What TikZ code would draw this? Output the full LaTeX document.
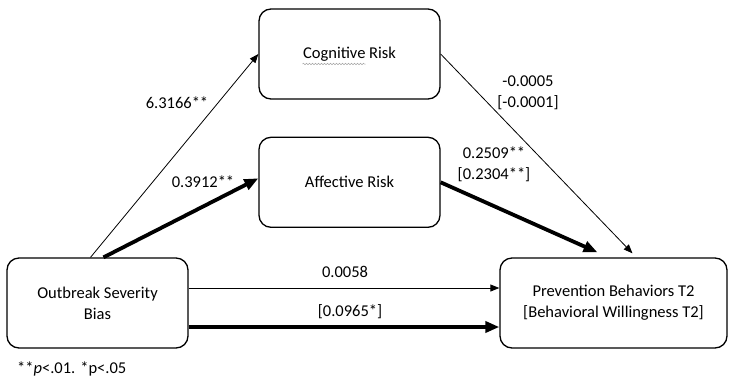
\documentclass[tikz,border=0pt]{standalone}
\usepackage{fontspec}
\setmainfont{Carlito}
\usepackage{tikz}
\usetikzlibrary{positioning,arrows.meta,calc,decorations.pathmorphing}
\tikzset{
  var/.style   ={rectangle, rounded corners=12pt, draw=black, line width=1.3pt,
                 minimum width=181pt, minimum height=90pt, align=center,
                 font=\fontsize{16.5}{21}\selectfont},
  outvar/.style={var, minimum width=227pt},
  coef/.style  ={align=center, inner sep=1pt, font=\fontsize{16.5}{21}\selectfont},
  weak/.style  ={-{Triangle[length=9pt,width=7pt]}, line width=0.8pt},
  strong/.style={-{Triangle[length=14pt,width=11pt]}, line width=3.8pt},
}
\begin{document}
\begin{tikzpicture}[x=1pt,y=-1pt]
\useasboundingbox (0,0) rectangle (729,389);
\node[var] (cog) at (349.5,54) {Cognitive Risk};
\node[var, below=37pt of cog] (aff) {Affective Risk};
\node[var] (osb) at (97.5,303) {Outbreak Severity\\ Bias};
\node[outvar] (pb) at (613.5,303) {Prevention Behaviors T2\\ {[Behavioral Willingness T2]}};

% spell-check squiggle
\draw[gray!70, line width=0.5pt, decorate, decoration={snake, amplitude=0.8pt, segment length=3pt}]
  ($(cog.center)+(-47,10)$) -- ($(cog.center)+(16,10)$);

% a paths
\draw[weak] ([xshift=-7pt]osb.north) -- (cog.west);
\draw[strong] ([xshift=6pt]osb.north) -- ([yshift=4pt]aff.west);
% b paths
\draw[weak] (cog.east) -- ([xshift=19pt,yshift=4pt]pb.north);
\draw[strong] (aff.east) -- ([xshift=-16pt,yshift=5pt]pb.north);
% c' paths
\draw[weak] ([yshift=15pt]osb.east) -- ([yshift=15pt]pb.west);
\draw[strong] ([yshift=-24pt]osb.east) -- ([yshift=-24pt]pb.west);

\node[coef] (ca) at (177,103) {6.3166**};
\node[coef] (aa) at (203,182) {0.3912**};
\node[coef] (cb) at (528,93) {-0.0005\\ {[-0.0001]}};
\node[coef] (ab) at (494,164) {0.2509**\\ {[0.2304**]}};
\node[coef] (cp) at (345,272) {0.0058};
\node[coef] (cw) at (350,312) {[0.0965*]};
\node[coef, anchor=west] (note) at (16,369) {**\textit{p}<.01. *p<.05};
\end{tikzpicture}
\end{document}
